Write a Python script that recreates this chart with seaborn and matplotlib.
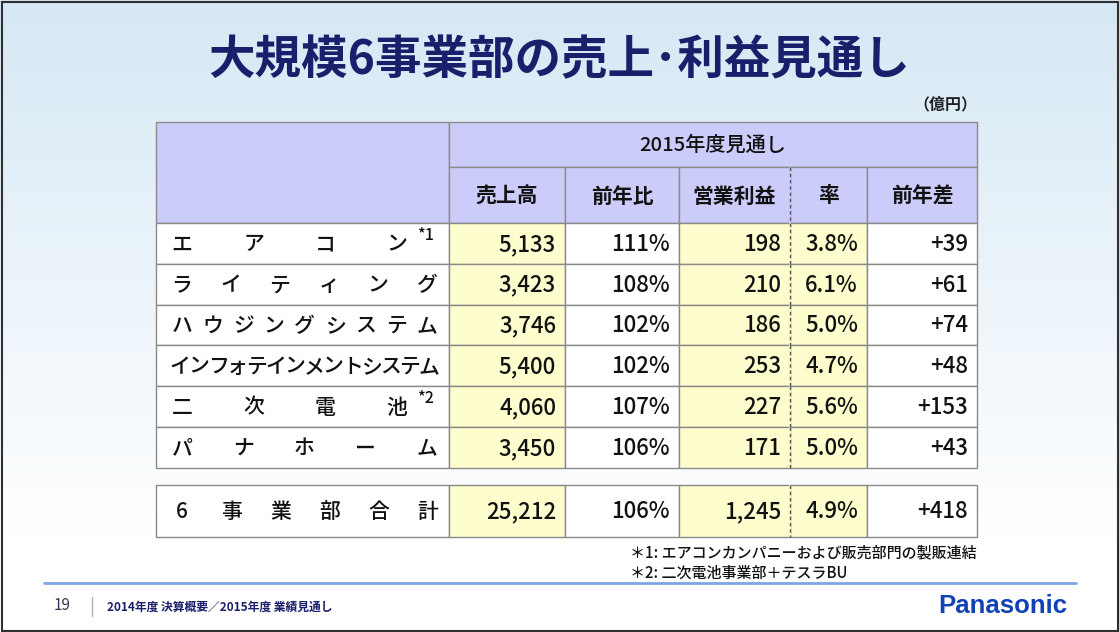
import numpy as np
import matplotlib
matplotlib.use("Agg")
import matplotlib.pyplot as plt
import seaborn as sns
from matplotlib.patches import Rectangle

sns.set_theme(style="white")
plt.rcParams['font.family'] = ['Noto Sans CJK JP', 'DejaVu Sans']

# table data (億円)
segments = ["エアコン", "ライティング", "ハウジングシステム", "インフォテインメントシステム", "二次電池", "パナホーム"]
notes = ["*1", "", "", "", "*2", ""]
sales = [5133, 3423, 3746, 5400, 4060, 3450]
yoy = [111, 108, 102, 102, 107, 106]
op_profit = [198, 210, 186, 253, 227, 171]
margin = [3.8, 6.1, 5.0, 4.7, 5.6, 5.0]
diff = [39, 61, 74, 48, 153, 43]

total_label = "6事業部合計"
total_values = [25212, 106, 1245, 4.9, 418]

headers = ["売上高", "前年比", "営業利益", "率", "前年差"]
group_header = "2015年度見通し"
title = "大規模6事業部の売上･利益見通し"
unit = "（億円）"
footnotes = ["＊1: エアコンカンパニーおよび販売部門の製販連結", "＊2: 二次電池事業部＋テスラBU"]
footer = "2014年度 決算概要／2015年度 業績見通し"
page = "19"

# layout in pixels
W, H = 1119, 632
col_x = [156, 449, 565, 679, 790, 867, 977]
head_top, head_mid, head_bot = 122, 167, 223
row_h = 40.8
tot_top, tot_bot = 485, 537
yellow_cols = [0, 2, 3]

fill_head = "#ccccfa"
fill_yel = "#fdfdcd"
line_c = "#8a8a8a"
navy = "#1b1f6b"
ink = "#111111"

fig = plt.figure(figsize=(W / 100, H / 100), dpi=100)
ax = fig.add_axes([0, 0, 1, 1])
ax.set_xlim(0, W)
ax.set_ylim(H, 0)
ax.axis("off")

# background gradient
grad = np.linspace(0, 1, 256)[:, None]
top = np.array([0.84, 0.91, 0.96])
bot = np.array([1.0, 1.0, 1.0])
t = np.clip(grad / 0.85, 0, 1)
img = top * (1 - t)[..., None] + bot * t[..., None]
img = np.repeat(img, 2, axis=1)
ax.imshow(img, extent=[0, W, H, 0], aspect="auto", zorder=0)
ax.add_patch(Rectangle((1.5, 1.5), W - 3, H - 3, fill=False, ec="#303030", lw=1.5, zorder=10))

ax.text(W / 2, 60, title, ha="center", va="center", fontsize=33.5, fontweight="bold", color=navy)
ax.text(977, 104, unit, ha="right", va="center", fontsize=11.5, fontweight="bold", color="#222222")


def rect(x0, y0, x1, y1, fc):
    ax.add_patch(Rectangle((x0, y0), x1 - x0, y1 - y0, fc=fc, ec=line_c, lw=1, zorder=2))


def spread(label, y, x_first, x_last, size):
    n = len(label)
    if n > 10:
        xs = np.linspace(x_first - 2, x_last + 2, n)
    else:
        xs = np.linspace(x_first, x_last, n)
    for ch, xc in zip(label, xs):
        ax.text(xc, y, ch, ha="center", va="center", fontsize=size, color=ink,
                fontweight="medium", zorder=5)


def dashed(y0, y1, under):
    ax.plot([col_x[4], col_x[4]], [y0 + 1, y1 - 1], color=under, lw=1.6, zorder=3)
    ax.plot([col_x[4], col_x[4]], [y0, y1], color="#555555", lw=1, ls=(0, (2.5, 2)), zorder=4)


# header
rect(col_x[0], head_top, col_x[1], head_bot, fill_head)
rect(col_x[1], head_top, col_x[-1], head_mid, fill_head)
ax.text((col_x[1] + col_x[-1]) / 2, (head_top + head_mid) / 2 + 1, group_header,
        ha="center", va="center", fontsize=14.5, color=ink, fontweight="medium", zorder=5)
for j, h in enumerate(headers):
    rect(col_x[j + 1], head_mid, col_x[j + 2], head_bot, fill_head)
    ax.text((col_x[j + 1] + col_x[j + 2]) / 2, (head_mid + head_bot) / 2 + 1, h,
            ha="center", va="center", fontsize=15, color=ink, fontweight="bold", zorder=5)
dashed(head_mid, head_bot, fill_head)


def cell_texts(vals):
    s, r, p, m, d = vals
    return [f"{s:,}", f"{r}%", f"{p:,}", f"{m:.1f}%", f"+{d}"]


def draw_row(y0, y1, label, note, vals, last_x):
    yc = (y0 + y1) / 2 + 1
    rect(col_x[0], y0, col_x[1], y1, "white")
    spread(label, yc, 182, last_x, 15)
    if note:
        ax.text(417, y0 + 12, note, ha="left", va="center", fontsize=11.5,
                fontweight="medium", color=ink, zorder=5)
    for j, txt in enumerate(cell_texts(vals)):
        fc = fill_yel if j in yellow_cols else "white"
        rect(col_x[j + 1], y0, col_x[j + 2], y1, fc)
        ax.text(col_x[j + 2] - 9, yc, txt, ha="right", va="center", fontsize=16,
                fontweight="medium", color=ink, zorder=5)
    dashed(y0, y1, fill_yel)


for i, seg in enumerate(segments):
    y0 = head_bot + i * row_h
    y1 = y0 + row_h
    last_x = 397 if notes[i] else 427
    vals = (sales[i], yoy[i], op_profit[i], margin[i], diff[i])
    draw_row(y0, y1, seg, notes[i], vals, last_x)

# total row
draw_row(tot_top, tot_bot, total_label, "", total_values, 428)

# footnotes
ax.text(630, 553, footnotes[0], ha="left", va="center", fontsize=10.8, fontweight="medium", color=ink)
ax.text(630, 573, footnotes[1], ha="left", va="center", fontsize=10.8, fontweight="medium", color=ink)

# footer
ax.plot([44, 1076], [583, 583], color="#7ea6e0", lw=2, zorder=3)
ax.text(62, 606, page, ha="center", va="center", fontsize=11, color="#333355")
ax.plot([92, 92], [597, 616], color="#b0b0c0", lw=1)
ax.text(107, 607, footer, ha="left", va="center", fontsize=8.5, color=navy, fontweight="bold")
ax.text(1003, 606, "Panasonic", ha="center", va="center", fontsize=18.5, fontweight="bold",
        color="#1142b5", family="Liberation Sans")

fig.savefig("out.png", dpi=100)
